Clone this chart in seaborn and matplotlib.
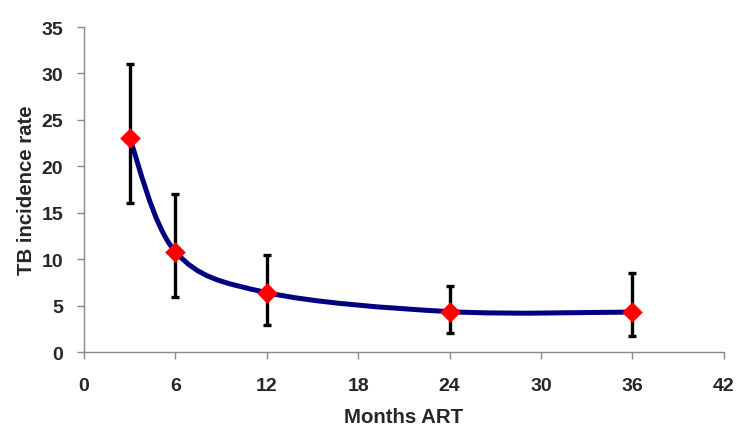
import numpy as np
import pandas as pd
import matplotlib
matplotlib.use("Agg")
import matplotlib.pyplot as plt
from matplotlib.path import Path
from matplotlib.patches import PathPatch
import seaborn as sns

months = [3, 6, 12, 24, 36]
rate = [23.0, 10.8, 6.4, 4.35, 4.3]
ci_low = [16.0, 5.9, 2.95, 2.1, 1.75]
ci_high = [31.0, 17.0, 10.5, 7.1, 8.5]
x_ticks = [0, 6, 12, 18, 24, 30, 36, 42]
y_ticks = [0, 5, 10, 15, 20, 25, 30, 35]

sns.set_theme(style="white")
plt.rcParams['font.family'] = ['Liberation Sans', 'DejaVu Sans']

fig = plt.figure(figsize=(7.5, 4.35), dpi=100)
ax = fig.add_axes([0.112, 0.1885, 0.853, 0.747])

df = pd.DataFrame({"months": months, "rate": rate})

# smoothed connecting line (Bezier through data points, like a spreadsheet "smoothed line")
pts = np.column_stack([months, rate]).astype(float)
n = len(pts)
verts = [tuple(pts[0])]
codes = [Path.MOVETO]
for i in range(n - 1):
    p0 = pts[i - 1] if i > 0 else pts[i]
    p1 = pts[i]
    p2 = pts[i + 1]
    p3 = pts[i + 2] if i + 2 < n else pts[i + 1]
    c1 = p1 + (p2 - p0) / 6.0
    c2 = p2 - (p3 - p1) / 6.0
    verts += [tuple(c1), tuple(c2), tuple(p2)]
    codes += [Path.CURVE4] * 3
ax.add_patch(PathPatch(Path(verts, codes), facecolor="none", edgecolor="#000080",
                       lw=3.6, zorder=2, capstyle="round", joinstyle="round"))

yerr = np.array([np.array(rate) - np.array(ci_low), np.array(ci_high) - np.array(rate)])
ax.errorbar(months, rate, yerr=yerr, fmt="none", ecolor="black", elinewidth=2.4,
            capsize=3.2, capthick=2.4, zorder=3)

sns.scatterplot(data=df, x="months", y="rate", marker="D", color="#FF0000", s=110,
                edgecolor="#FF0000", linewidth=0, zorder=4, ax=ax)

ax.set_xlim(0, 42)
ax.set_ylim(0, 35)
ax.set_xticks(x_ticks)
ax.set_yticks(y_ticks)
ax.set_xticklabels([str(t) for t in x_ticks], fontsize=14, fontweight="bold")
ax.set_yticklabels([str(t) for t in y_ticks], fontsize=14, fontweight="bold")
ax.set_xlabel("Months ART", fontsize=14.7, fontweight="bold", labelpad=9)
ax.set_ylabel("TB incidence rate", fontsize=14.7, fontweight="bold", labelpad=4)

for s in ["top", "right"]:
    ax.spines[s].set_visible(False)
for s in ["left", "bottom"]:
    ax.spines[s].set_color("#888888")
    ax.spines[s].set_linewidth(1.0)
ax.tick_params(axis="x", which="major", direction="out", length=5, width=1,
               color="#888888", pad=13, bottom=True)
ax.tick_params(axis="y", which="major", direction="out", length=5, width=1,
               color="#888888", pad=10, left=True)

fig.savefig("out.png", dpi=100)
